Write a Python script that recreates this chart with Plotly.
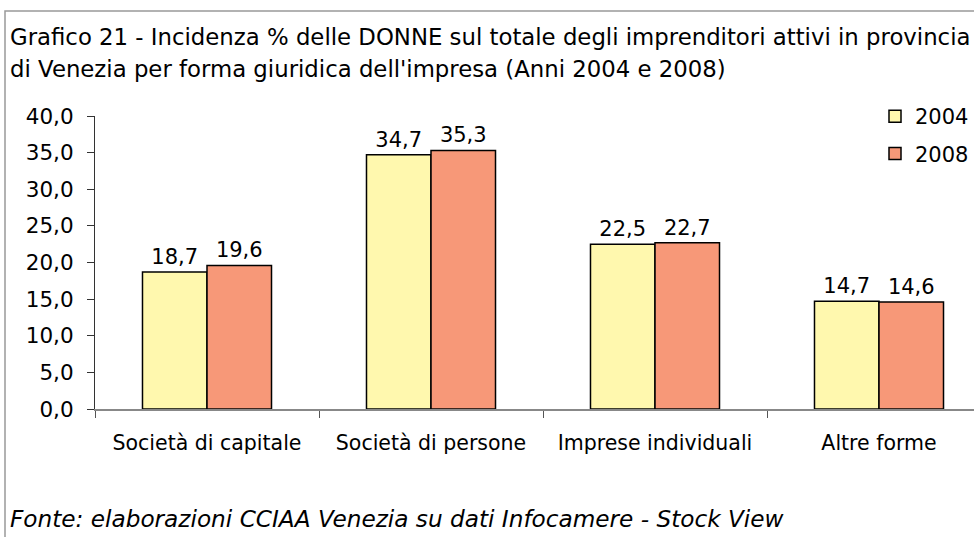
import plotly.graph_objects as go

categories = ["Società di capitale", "Società di persone", "Imprese individuali", "Altre forme"]
years = ["2004", "2008"]
values_2004 = [18.7, 34.7, 22.5, 14.7]
values_2008 = [19.6, 35.3, 22.7, 14.6]
y_ticks = [0, 5, 10, 15, 20, 25, 30, 35, 40]

title_lines = [
    "Grafico 21 - Incidenza % delle DONNE sul totale degli imprenditori attivi in provincia",
    "di Venezia per forma giuridica dell'impresa (Anni 2004 e 2008)",
]
source_text = "Fonte: elaborazioni CCIAA Venezia su dati Infocamere - Stock View"

W, H = 974, 537
FONT = "DejaVu Sans, Verdana, sans-serif"

def px(x):
    return x / W

def py(y):
    return 1 - y / H

colors = {"2004": "#FFF8AE", "2008": "#F79878"}

fig = go.Figure()
for yr, vals in zip(years, [values_2004, values_2008]):
    fig.add_trace(go.Bar(
        name=yr,
        x=categories,
        y=vals,
        marker=dict(color=colors[yr], line=dict(color="#000000", width=1.5)),
        texttemplate="%{y:.1f}",
        textposition="outside",
        textfont=dict(family=FONT, size=21, color="#000000"),
        cliponaxis=False,
        legendgroup=yr,
    ))

fig.update_layout(
    width=W, height=H,
    margin=dict(l=0, r=0, t=0, b=0, autoexpand=False),
    paper_bgcolor="white", plot_bgcolor="white",
    separators=",.",
    font=dict(family=FONT, size=21, color="#000000"),
    barmode="group",
    bargap=0.424,
    bargroupgap=0,
    showlegend=True,
    legend=dict(
        x=px(875), y=py(96), xanchor="left", yanchor="top",
        bgcolor="rgba(0,0,0,0)",
        font=dict(family=FONT, size=21),
        traceorder="grouped",
        tracegroupgap=7,
        itemwidth=30,
    ),
    xaxis=dict(
        domain=[px(95), 1],
        range=[-0.5, (W - 95) / 224 - 0.5],
        type="category",
        showline=True, linecolor="#888888", linewidth=1.5,
        ticks="outside", tickson="boundaries", ticklen=7, tickcolor="#555555", tickwidth=1,
        showgrid=False, zeroline=False,
        ticklabelstandoff=15,
        tickfont=dict(family=FONT, size=20.5),
        fixedrange=True,
    ),
    yaxis=dict(
        domain=[py(409), py(116)],
        range=[0, 40],
        tickvals=y_ticks,
        tickformat=".1f",
        showline=True, linecolor="#333333", linewidth=1.2,
        ticks="outside", ticklen=7, tickcolor="#333333", tickwidth=1,
        showgrid=False, zeroline=False,
        ticklabelstandoff=9,
        tickfont=dict(family=FONT, size=21.5),
        fixedrange=True,
    ),
)

for line, yc in zip(title_lines, [37, 69]):
    fig.add_annotation(
        xref="paper", yref="paper", x=px(8), y=py(yc), xanchor="left", yanchor="middle",
        text=line, align="left", showarrow=False,
        font=dict(family=FONT, size=22.8, color="#000000"),
    )
fig.add_annotation(
    xref="paper", yref="paper", x=px(8), y=py(518), xanchor="left", yanchor="middle",
    text="<i>" + source_text + "</i>", align="left", showarrow=False,
    font=dict(family=FONT, size=23.2, color="#000000"),
)

fig.add_shape(
    type="rect", xref="paper", yref="paper",
    x0=px(5), x1=1.2, y0=-0.2, y1=py(11),
    line=dict(color="#999999", width=1.5), fillcolor="rgba(0,0,0,0)", layer="below",
)

fig.write_html(
    "out.html",
    config={"displayModeBar": False},
    post_script="document.body.style.margin='0';document.body.style.overflow='hidden';",
)
